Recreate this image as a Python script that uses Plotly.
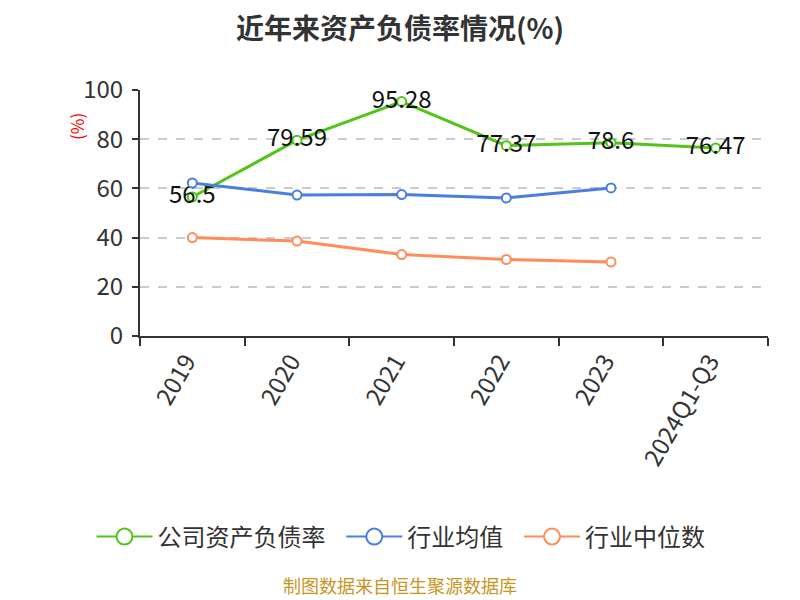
import plotly.graph_objects as go

# data
years = ["2019", "2020", "2021", "2022", "2023", "2024Q1-Q3"]
company_ratio = [56.5, 79.59, 95.28, 77.37, 78.6, 76.47]
industry_avg = [62.2, 57.3, 57.5, 56.1, 60.2, None]
industry_median = [40.0, 38.6, 33.1, 31.1, 30.1, None]

series_names = ["公司资产负债率", "行业均值", "行业中位数"]
series_colors = ["#52c41a", "#4a7fe0", "#ff8c5a"]

font_family = "Noto Sans CJK SC, Noto Sans, sans-serif"

fig = go.Figure()

# company line with value labels
fig.add_trace(go.Scatter(
    x=years, y=company_ratio, name=series_names[0], showlegend=False,
    mode="lines+markers+text",
    text=[str(v) for v in company_ratio], textposition="middle center",
    textfont=dict(size=24, color="#111111"),
    line=dict(color=series_colors[0], width=3),
    marker=dict(symbol="circle", size=9, color="white", line=dict(color=series_colors[0], width=2)),
))

for name, vals, col in zip(series_names[1:], [industry_avg, industry_median], series_colors[1:]):
    fig.add_trace(go.Scatter(
        x=years, y=vals, name=name, showlegend=False,
        mode="lines+markers",
        line=dict(color=col, width=3),
        marker=dict(symbol="circle", size=9, color="white", line=dict(color=col, width=2)),
    ))

# legend-only entries with big open circles (nbsp padding widens the gaps)
pad = ["\u00a0\u00a0", "\u00a0\u00a0", ""]
for name, col, p in zip(series_names, series_colors, pad):
    fig.add_trace(go.Scatter(
        x=[None], y=[None], name=name + p, mode="lines+markers",
        line=dict(color=col, width=2),
        marker=dict(symbol="circle", size=20, color="white", line=dict(color=col, width=2)),
    ))

# page body sits 8px in from the window corner, so the figure is 792x592
fig.update_layout(
    width=792, height=592,
    paper_bgcolor="white", plot_bgcolor="white",
    margin=dict(l=132, r=32, t=82, b=264),
    font=dict(family=font_family, color="#333333"),
    title=dict(text="<b>近年来资产负债率情况(%)</b>", x=0.4949, xanchor="center",
               y=1 - 21 / 592, yanchor="middle", font=dict(size=28, color="#333333")),
    legend=dict(orientation="h", x=0.4156, xanchor="center", y=-0.817, yanchor="middle",
                font=dict(size=24, color="#333333"), itemwidth=56),
    showlegend=True,
)

fig.update_xaxes(
    type="category", showline=True, linecolor="#333333", linewidth=2,
    ticks="outside", tickson="boundaries", ticklen=8, tickcolor="#333333", tickwidth=2,
    tickangle=-60, tickfont=dict(size=24, color="#333333"), showgrid=False,
    ticklabelshift=-6,
    range=[-0.5, 5.5],
)

fig.update_yaxes(
    range=[0, 100], dtick=20, showline=True, linecolor="#333333", linewidth=2,
    ticks="outside", ticklen=6, tickcolor="#333333", tickwidth=2,
    tickfont=dict(size=24, color="#333333"), ticklabelstandoff=4,
    showgrid=True, gridcolor="#cccccc", griddash="dash", gridwidth=1.5,
    zeroline=False,
)

# red unit label on the left
fig.add_annotation(
    text="(%)", xref="paper", yref="paper", x=-0.1003, y=0.85,
    xanchor="center", yanchor="middle",
    textangle=-90, showarrow=False, font=dict(size=17, color="#ff0000"),
)

# source note
fig.add_annotation(
    text="制图数据来自恒生聚源数据库", xref="paper", yref="paper",
    x=0.414, y=1 - (577 - 82) / 246, xanchor="center", yanchor="middle", showarrow=False,
    font=dict(size=18, color="#c8961e"),
)

fig.write_html("out.html")
